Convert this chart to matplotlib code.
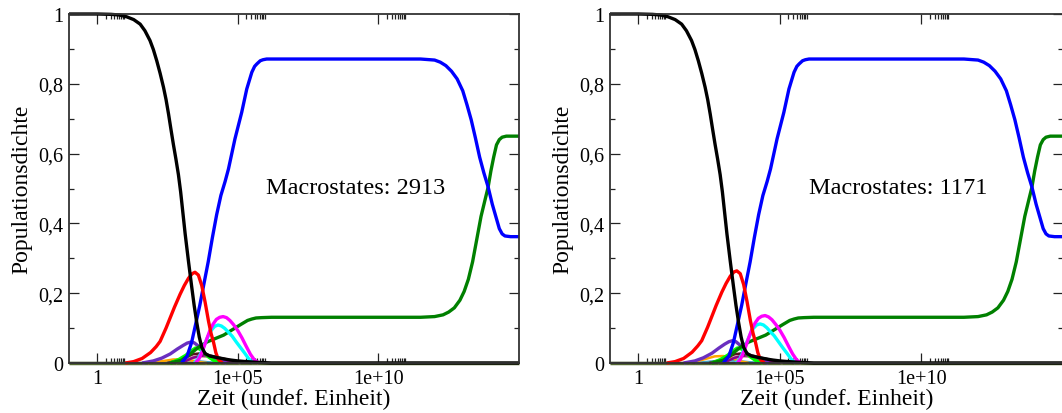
import numpy as np
import matplotlib
matplotlib.use('Agg')
import matplotlib.pyplot as plt
from matplotlib.ticker import FixedLocator, NullFormatter

plt.rcParams['font.family'] = ['Liberation Serif', 'DejaVu Serif']

# log10(time) and population values
black_L = [-1, 0, 0.5, 0.8, 1.05, 1.3, 1.53, 1.7, 1.88, 2.0, 2.12, 2.24, 2.36, 2.45, 2.54, 2.62, 2.71, 2.8, 2.89,
           2.97, 3.05, 3.13, 3.25, 3.36, 3.45, 3.54, 3.63, 3.72, 3.84, 4.0, 4.3, 4.7, 5.0, 5.3, 5.7, 6.2, 15]
black_y = [1.0, 1.0, 0.999, 0.997, 0.992, 0.984, 0.971, 0.952, 0.924, 0.898, 0.866, 0.83, 0.79, 0.755, 0.713, 0.672,
           0.627, 0.585, 0.54, 0.49, 0.43, 0.37, 0.29, 0.22, 0.165, 0.117, 0.075, 0.045, 0.027, 0.02, 0.015, 0.009,
           0.006, 0.004, 0.002, 0.0, 0.0]

blue_L = [3.0, 3.2, 3.36, 3.5, 3.65, 3.8, 3.95, 4.1, 4.25, 4.4, 4.55, 4.67, 4.9, 5.14, 5.32, 5.5, 5.6, 5.68, 5.8,
          5.9, 6.03, 8, 10, 11.5, 12.0, 12.2, 12.4, 12.6, 12.8, 13.0, 13.15, 13.3, 13.45, 13.6, 13.75, 13.9, 14.05,
          14.2, 14.3, 14.4, 14.5, 14.7, 15]
blue_y = [0.0, 0.02, 0.059, 0.11, 0.165, 0.228, 0.29, 0.36, 0.425, 0.48, 0.52, 0.556, 0.642, 0.718, 0.785, 0.833,
          0.85, 0.857, 0.866, 0.869, 0.871, 0.871, 0.871, 0.871, 0.868, 0.862, 0.852, 0.836, 0.814, 0.78, 0.74,
          0.697, 0.645, 0.59, 0.545, 0.505, 0.455, 0.413, 0.385, 0.37, 0.364, 0.362, 0.362]

green_L = [2.6, 3.0, 3.3, 3.6, 3.9, 4.2, 4.5, 4.8, 5.1, 5.35, 5.5, 5.65, 5.85, 6.2, 8, 10, 11.5, 12.0, 12.3, 12.5,
           12.7, 12.9, 13.05, 13.2, 13.35, 13.5, 13.65, 13.8, 13.9, 14.0, 14.1, 14.2, 14.3, 14.4, 14.55, 15]
green_y = [0.0, 0.008, 0.025, 0.045, 0.06, 0.07, 0.08, 0.095, 0.11, 0.122, 0.126, 0.129, 0.13, 0.131, 0.131, 0.131,
           0.131, 0.133, 0.138, 0.146, 0.158, 0.18, 0.205, 0.24, 0.29, 0.355, 0.42, 0.47, 0.503, 0.55, 0.59, 0.625,
           0.64, 0.647, 0.65, 0.65]

red_L = [1.0, 1.3, 1.6, 1.9, 2.1, 2.24, 2.45, 2.6, 2.75, 2.95, 3.1, 3.25, 3.38, 3.48, 3.6, 3.72, 3.84, 3.96, 4.05,
         4.14, 4.22, 4.31, 4.45]
red_y_a = [0.0, 0.004, 0.013, 0.03, 0.047, 0.062, 0.1, 0.13, 0.16, 0.197, 0.222, 0.243, 0.256, 0.26, 0.252, 0.222,
           0.174, 0.12, 0.085, 0.059, 0.03, 0.01, 0.0]
red_y_b = [0.0, 0.004, 0.013, 0.031, 0.049, 0.064, 0.103, 0.134, 0.165, 0.203, 0.228, 0.249, 0.261, 0.264, 0.256,
           0.225, 0.176, 0.121, 0.086, 0.059, 0.03, 0.01, 0.0]

magenta_L = [3.5, 3.62, 3.75, 3.88, 4.0, 4.12, 4.24, 4.36, 4.48, 4.6, 4.72, 4.85, 5.0, 5.15, 5.3, 5.45, 5.6, 5.75]
magenta_y_a = [0.0, 0.012, 0.035, 0.065, 0.091, 0.111, 0.125, 0.131, 0.133, 0.13, 0.122, 0.11, 0.093, 0.072, 0.048,
               0.025, 0.008, 0.0]
magenta_y_b = [0.0, 0.013, 0.037, 0.068, 0.094, 0.114, 0.128, 0.134, 0.136, 0.132, 0.124, 0.111, 0.094, 0.073, 0.049,
               0.026, 0.008, 0.0]

cyan_L = [3.45, 3.58, 3.7, 3.82, 3.94, 4.06, 4.18, 4.3, 4.42, 4.54, 4.66, 4.8, 4.95, 5.1, 5.25, 5.4, 5.55]
cyan_y_a = [0.0, 0.01, 0.03, 0.053, 0.076, 0.094, 0.105, 0.109, 0.106, 0.099, 0.089, 0.077, 0.06, 0.044, 0.028,
            0.011, 0.0]
cyan_y_b = [0.0, 0.011, 0.032, 0.057, 0.08, 0.099, 0.109, 0.112, 0.109, 0.101, 0.09, 0.078, 0.061, 0.044, 0.028,
            0.011, 0.0]

purple_L = [1.6, 2.0, 2.3, 2.6, 2.85, 3.05, 3.2, 3.33, 3.45, 3.58, 3.72, 3.87, 4.05, 4.3, 4.6]
purple_y_a = [0.0, 0.006, 0.014, 0.026, 0.04, 0.05, 0.057, 0.06, 0.058, 0.05, 0.037, 0.025, 0.015, 0.006, 0.0]
purple_y_b = [0.0, 0.006, 0.015, 0.028, 0.043, 0.054, 0.061, 0.064, 0.061, 0.052, 0.038, 0.025, 0.015, 0.006, 0.0]

orange_L = [1.8, 2.3, 2.7, 3.0, 3.3, 3.6, 3.9]
orange_y_a = [0.0, 0.005, 0.01, 0.011, 0.008, 0.003, 0.0]
orange_y_b = [0.0, 0.01, 0.019, 0.02, 0.014, 0.005, 0.0]

lime_L = [2.6, 2.9, 3.15, 3.35, 3.5, 3.65, 3.8, 3.95, 4.15, 4.4]
lime_y = [0.0, 0.01, 0.022, 0.035, 0.043, 0.04, 0.03, 0.018, 0.007, 0.0]

maroon_L = [2.5, 3.0, 3.4, 3.7, 4.0, 4.4, 4.8, 5.2, 5.5]
maroon_y = [0.0, 0.01, 0.025, 0.028, 0.022, 0.014, 0.007, 0.002, 0.0]

rosy_L = [2.8, 3.2, 3.6, 4.0, 4.4, 4.8, 5.1]
rosy_y = [0.0, 0.01, 0.02, 0.018, 0.01, 0.004, 0.0]

violet_L = [3.0, 3.4, 3.8, 4.2, 4.6, 5.0]
violet_y = [0.0, 0.015, 0.022, 0.016, 0.006, 0.0]

teal_L = [2.0, 2.5, 3.0, 3.5, 4.0, 4.4]
teal_y = [0.0, 0.004, 0.008, 0.006, 0.002, 0.0]

flat_L = [-1, 15]
flat_y = [0.0, 0.0]

panel_text = ['Macrostates: 2913', 'Macrostates: 1171']
ytick_vals = [0, 0.2, 0.4, 0.6, 0.8, 1.0]
ytick_text = ['0', '0,2', '0,4', '0,6', '0,8', '1']
xtick_vals = [1, 1e5, 1e10]
xtick_text = ['1', '1e+05', '1e+10']


def curve(ax, L, y, color, lw=2.4):
    ax.plot(10.0 ** np.array(L), y, color=color, lw=lw, clip_on=False,
            solid_capstyle='butt', solid_joinstyle='round')


def panel(ax, red_y, magenta_y, cyan_y, purple_y, orange_y, label):
    curve(ax, flat_L, flat_y, '#556b2f', lw=2.5)
    curve(ax, flat_L, flat_y, '#404040', lw=1.6)
    curve(ax, teal_L, teal_y, '#40a0c0', lw=1.6)
    curve(ax, orange_L, orange_y, '#ffa500', lw=1.8)
    curve(ax, rosy_L, rosy_y, '#bc8f8f', lw=2.0)
    curve(ax, violet_L, violet_y, '#8b008b', lw=1.8)
    curve(ax, maroon_L, maroon_y, '#5a1020', lw=1.8)
    curve(ax, purple_L, purple_y, '#6a2fc0')
    curve(ax, lime_L, lime_y, '#00ff00')
    curve(ax, green_L, green_y, '#008000')
    curve(ax, cyan_L, cyan_y, '#00ffff')
    curve(ax, magenta_L, magenta_y, '#ff00ff')
    curve(ax, blue_L, blue_y, '#0000ff')
    curve(ax, red_L, red_y, '#ff0000')
    curve(ax, black_L, black_y, '#000000')

    ax.set_xscale('log')
    ax.set_xlim(0.1, 1e15)
    ax.set_ylim(0, 1)
    ax.xaxis.set_major_locator(FixedLocator(xtick_vals))
    ax.set_xticklabels(xtick_text)
    minors = [k * 10.0 ** e for e in (0, 5, 10) for k in range(2, 10)]
    ax.xaxis.set_minor_locator(FixedLocator(minors))
    ax.xaxis.set_minor_formatter(NullFormatter())
    ax.set_yticks(ytick_vals)
    ax.set_yticklabels(ytick_text)
    ax.set_yticks([0.1, 0.3, 0.5, 0.7, 0.9], minor=True)
    ax.tick_params(which='both', direction='in', top=True, right=True,
                   labelsize=14.5, width=0.9, color='#222222')
    ax.tick_params(which='major', length=7.2, pad=4)
    ax.tick_params(which='minor', length=3.6)
    for s in ax.spines.values():
        s.set_linewidth(1.3)
        s.set_color('#333333')
    ax.set_xlabel('Zeit (undef. Einheit)', fontsize=17, labelpad=0)
    ax.set_ylabel('Populationsdichte', fontsize=17, labelpad=4)
    ax.text(1.5e9, 0.504, label, fontsize=17.5, ha='center', va='center')


fig = plt.figure(figsize=(10.62, 4.14), dpi=100)
ax1 = fig.add_axes([69 / 1062, 50 / 414, 450 / 1062, 349 / 414])
ax2 = fig.add_axes([610 / 1062, 50 / 414, 453 / 1062, 349 / 414])
panel(ax1, red_y_a, magenta_y_a, cyan_y_a, purple_y_a, orange_y_a, panel_text[0])
panel(ax2, red_y_b, magenta_y_b, cyan_y_b, purple_y_b, orange_y_b, panel_text[1])
fig.savefig('out.png', dpi=100)
